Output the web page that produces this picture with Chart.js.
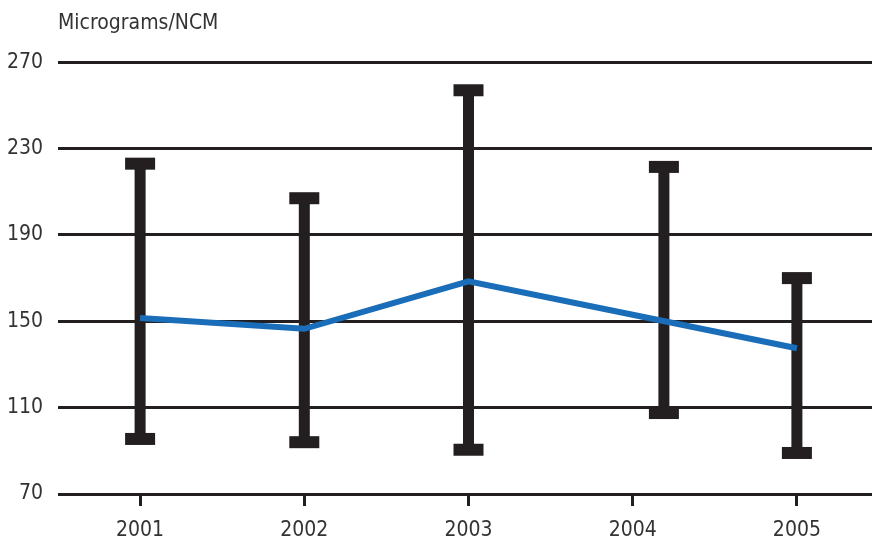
<!DOCTYPE html>
<html>
<head>
<meta charset="utf-8">
<script src="https://cdn.jsdelivr.net/npm/chart.js@4.4.1/dist/chart.umd.min.js"></script>
<style>
  html, body { margin: 0; padding: 0; background: #fff; overflow: hidden; }
  #wrap { position: relative; width: 879px; height: 555px; }
</style>
</head>
<body>
<div id="wrap"><canvas id="chart"></canvas></div>
<script>
// data
const years = [2001, 2002, 2003, 2004, 2005];
const meanValues = [151.5, 146.5, 168.5, 153, 137.5];
const errX = [2001, 2002, 2003, 2004.19, 2005]; // 2004 bar sits a bit right of its tick
const errHigh = [223, 207, 257, 221.5, 170];
const errLow = [95.5, 94, 90.5, 107.5, 89];
const yTicks = [70, 110, 150, 190, 230, 270];

const ink = "#231f20";
const fontFamily = '"Liberation Sans Narrow", "DejaVu Sans Condensed", "Roboto Condensed", sans-serif';

// error bars: stem + square caps, drawn under the line
const errorBars = {
  id: "errorBars",
  beforeDatasetsDraw(chart) {
    const ctx = chart.ctx;
    const x = chart.scales.x;
    const y = chart.scales.y;
    ctx.save();
    ctx.fillStyle = ink;
    for (let i = 0; i < errX.length; i++) {
      const px = x.getPixelForValue(errX[i]);
      const top = y.getPixelForValue(errHigh[i]);
      const bot = y.getPixelForValue(errLow[i]);
      ctx.fillRect(px - 5.5, top, 11, bot - top);
      ctx.fillRect(px - 15, top - 6, 30, 12);
      ctx.fillRect(px - 15, bot - 6, 30, 12);
    }
    ctx.restore();
  }
};

new Chart(document.getElementById("chart"), {
  type: "line",
  data: {
    datasets: [
      {
        label: "Mean",
        data: years.map((yr, i) => ({ x: yr, y: meanValues[i] })),
        borderColor: "#1a6db8",
        borderWidth: 6,
        pointRadius: 0,
        tension: 0,
      },
    ],
  },
  options: {
    responsive: true,
    maintainAspectRatio: false,
    animation: false,
    plugins: {
      legend: { display: false },
      tooltip: { enabled: false },
      title: {
        display: true,
        text: "Micrograms/NCM",
        align: "start",
        fullSize: false,
        color: "#333",
        font: { family: fontFamily, size: 21, weight: "normal" },
        padding: { top: 11, bottom: 26 },
      },
    },
    scales: {
      x: {
        type: "linear",
        min: 2000.5,
        max: 2005.5,
        afterBuildTicks: (scale) => {
          scale.ticks = years.map((v) => ({ value: v }));
        },
        grid: {
          drawOnChartArea: false,
          drawTicks: true,
          tickLength: 12,
          tickWidth: 3,
          tickColor: ink,
        },
        border: { display: false },
        ticks: {
          color: "#333",
          padding: 14,
          maxRotation: 0,
          font: { family: fontFamily, size: 21, lineHeight: 1 },
          callback: (v) => String(v),
        },
      },
      y: {
        min: 70,
        max: 270,
        afterBuildTicks: (scale) => {
          scale.ticks = yTicks.map((v) => ({ value: v }));
        },
        afterFit: (scale) => {
          scale.width = 58;
        },
        grid: {
          color: ink,
          lineWidth: 3,
          drawTicks: false,
        },
        border: { display: false },
        ticks: {
          color: "#333",
          padding: 15,
          font: { family: fontFamily, size: 21 },
        },
      },
    },
  },
  plugins: [errorBars],
});
</script>
</body>
</html>
